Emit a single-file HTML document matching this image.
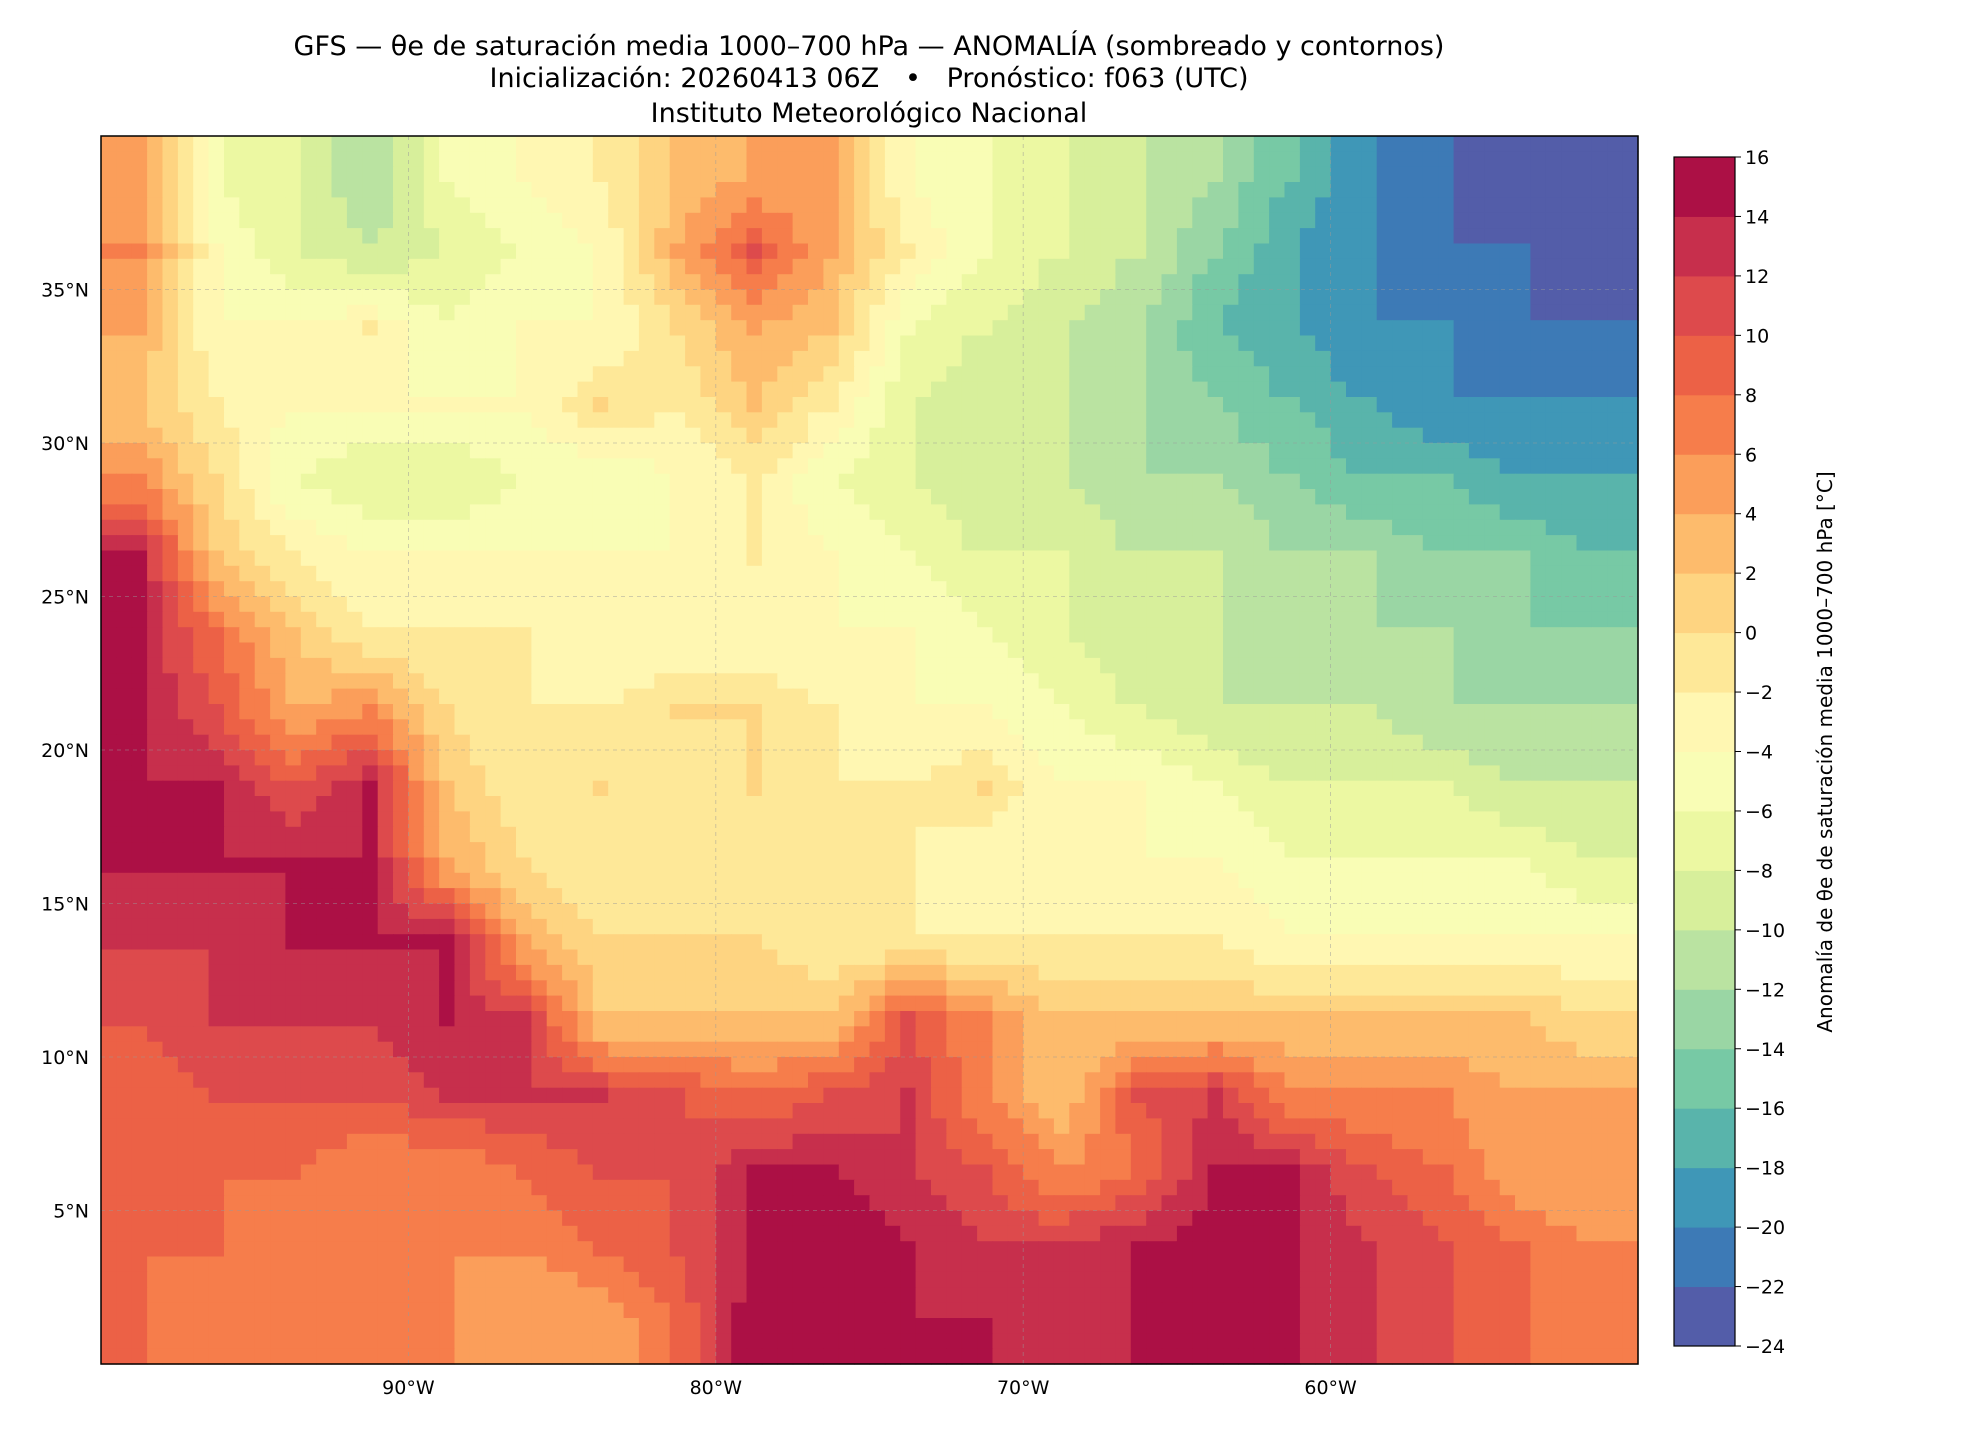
<!DOCTYPE html>
<html><head><meta charset="utf-8"><style>
html,body{margin:0;padding:0;background:#fff;}
svg{display:block;font-family:"DejaVu Sans","Liberation Sans",sans-serif;}
</style></head><body>
<svg id="fig" width="1980" height="1440" viewBox="0 0 1980 1440">
<g font-size="27" text-anchor="middle" fill="#000">
<text x="869" y="55">GFS — θe de saturación media 1000–700 hPa — ANOMALÍA (sombreado y contornos)</text>
<text x="869" y="87" xml:space="preserve">Inicialización: 20260413 06Z   •   Pronóstico: f063 (UTC)</text>
<text x="869" y="122">Instituto Meteorológico Nacional</text>
</g>
<g id="map"></g>
<g id="grid"></g>
<rect x="101" y="136" width="1537" height="1228" fill="none" stroke="#000" stroke-width="1.5"/>
<g id="xt"></g>
<g id="yt"></g>
<g id="cb"></g>
<text transform="translate(1832,752) rotate(-90)" text-anchor="middle" font-size="20">Anomalía de θe de saturación media 1000–700 hPa [°C]</text>
</svg>
<script>
const lonTicks=[-90,-80,-70,-60];
const latTicks=[5,10,15,20,25,30,35];
const levels=[-24,-22,-20,-18,-16,-14,-12,-10,-8,-6,-4,-2,0,2,4,6,8,10,12,14,16];
// anomaly grid, rows lat 40->0 (2.5deg), cols lon -100->-50 (2.5deg)
const row0=[4,-6,-8,-12,-6,-4,-2,2,4,4,-4,-6,-8,-10,-12,-16,-20,-22,-24,-24];
const row1=[6,-4,-8,-10,-8,-6,-4,4,10,4,-2,-6,-8,-10,-14,-18,-20,-22,-22,-24];
const row2=[4,-4,-4,-2,-6,-4,-4,0,4,2,-6,-8,-10,-12,-16,-18,-20,-20,-22,-22];
const row3=[2,-2,-4,-4,-4,-4,0,-2,2,-2,-8,-10,-10,-12,-14,-16,-18,-20,-20,-20];
const row4=[6,0,-6,-8,-8,-6,-6,-4,-2,-6,-8,-10,-10,-12,-12,-14,-16,-16,-18,-18];
const row5=[14,2,-2,-4,-4,-4,-4,-4,-2,-4,-6,-8,-8,-10,-10,-12,-12,-14,-14,-16];
const row6=[14,8,2,-2,-2,-2,-4,-4,-4,-4,-4,-6,-8,-10,-10,-12,-12,-12,-14,-14];
const row7=[14,10,4,6,0,-2,-2,0,0,-2,-4,-4,-6,-8,-10,-10,-10,-12,-12,-12];
const row8=[14,14,10,14,2,-2,0,-2,0,-2,-2,0,-4,-4,-6,-8,-8,-8,-10,-10];
const row9=[14,14,14,14,4,0,-2,-2,-2,-2,-2,-4,-4,-4,-4,-6,-6,-6,-6,-8];
const row10=[12,12,14,14,14,4,0,0,0,-2,-2,-2,-2,-2,-2,-4,-4,-4,-4,-4];
const row11=[10,12,12,12,14,12,2,2,2,2,10,6,2,2,2,2,2,2,2,0];
const row12=[8,10,10,10,12,12,12,10,8,10,12,6,2,10,12,6,6,6,4,4];
const row13=[8,8,8,6,6,8,10,10,14,14,12,10,6,8,14,14,10,8,4,4];
const row14=[8,8,6,6,6,6,8,10,14,16,14,12,12,14,16,14,12,10,8,6];
const row15=[8,6,6,6,6,4,4,8,16,16,14,14,12,14,16,14,12,10,8,6];
const field=[row0,row1,row2,row3,row4,row5,row6,row7,row8,row9,row10,row11,row12,row13,row14,row15];

const NS="http://www.w3.org/2000/svg";
const X0=101,X1=1638,Y0=136,Y1=1364;
const xS=lon=>X0+(lon+100)/50*(X1-X0);
const yS=lat=>Y1-(lat)/40*(Y1-Y0);
const anchors=["#9e0142","#d53e4f","#f46d43","#fdae61","#fee08b","#ffffbf","#e6f598","#abdda4","#66c2a5","#3288bd","#5e4fa2"];
function hex(h){return [1,3,5].map(i=>parseInt(h.substr(i,2),16));}
function colorFor(v){
  let b=Math.floor((v+24)/2); b=Math.max(0,Math.min(19,b));
  const c=-24+2*b+1; const t=(16-c)/40*10;
  const i=Math.min(9,Math.floor(t)), f=t-i;
  const a=hex(anchors[i]), bb=hex(anchors[i+1]);
  return "rgb("+a.map((x,k)=>Math.round(x+(bb[k]-x)*f)).join(",")+")";
}
function mk(tag,attrs,parent){const e=document.createElementNS(NS,tag);for(const k in attrs)e.setAttribute(k,attrs[k]);parent.appendChild(e);return e;}
function sample(lat,lon){
  const nr=field.length,nc=field[0].length;
  let r=(40-lat)/2.5-0.5, c=(lon+100)/2.5-0.5;
  r=Math.max(0,Math.min(nr-1,r)); c=Math.max(0,Math.min(nc-1,c));
  const r0=Math.min(nr-2,Math.floor(r)), c0=Math.min(nc-2,Math.floor(c));
  const fr=r-r0, fc=c-c0;
  const v00=field[r0][c0],v01=field[r0][c0+1],v10=field[r0+1][c0],v11=field[r0+1][c0+1];
  return (v00*(1-fc)+v01*fc)*(1-fr)+(v10*(1-fc)+v11*fc)*fr;
}
const map=document.getElementById("map");
const sub=0.5;
for(let lat=40;lat>0;lat-=sub){
  for(let lon=-100;lon<-50;lon+=sub){
    const v=sample(lat-sub/2,lon+sub/2);
    const x=xS(lon),y=yS(lat);
    const r=mk("rect",{x:x.toFixed(1),y:y.toFixed(1),width:(xS(lon+sub)-x+0.6).toFixed(1),height:(yS(lat-sub)-y+0.6).toFixed(1),fill:colorFor(v)},map);
    
    
  }
}
const grid=document.getElementById("grid"),xt=document.getElementById("xt"),yt=document.getElementById("yt");
lonTicks.forEach(l=>{
  const x=xS(l);
  const g=mk("line",{x1:x,x2:x,y1:Y0,y2:Y1,stroke:"#999","stroke-width":0.8,"stroke-dasharray":"4,4","stroke-opacity":0.6},grid);
  
  
  const t=mk("text",{x:x,y:1394,"font-size":19,"text-anchor":"middle"},xt);
  t.textContent=Math.abs(l)+"°W";
  
  
});
latTicks.forEach(l=>{
  const y=yS(l);
  const g=mk("line",{x1:X0,x2:X1,y1:y,y2:y,stroke:"#999","stroke-width":0.8,"stroke-dasharray":"4,4","stroke-opacity":0.6},grid);
  
  
  const t=mk("text",{x:89,y:y+7,"font-size":19,"text-anchor":"end"},yt);
  t.textContent=l+"°N";
  
  
});
const cb=document.getElementById("cb");
const CX=1674,CW=61,CT=157,CB=1346;
const cy=v=>CB-(v+24)/40*(CB-CT);
for(let i=0;i<levels.length-1;i++){
  const r=mk("rect",{x:CX,y:cy(levels[i+1]),width:CW,height:cy(levels[i])-cy(levels[i+1])+0.5,fill:colorFor(levels[i]+1)},cb);
  
  
}
mk("rect",{x:CX,y:CT,width:CW,height:CB-CT,fill:"none",stroke:"#000","stroke-width":1.2},cb);
levels.forEach(v=>{
  const y=cy(v);
  mk("line",{x1:CX+CW,x2:CX+CW+6,y1:y,y2:y,stroke:"#000","stroke-width":1},cb);
  const t=mk("text",{x:CX+CW+10,y:y+7,"font-size":19},cb);
  t.textContent=v<0?"\u2212"+Math.abs(v):String(v);
  
  
});
</script>
</body></html>
